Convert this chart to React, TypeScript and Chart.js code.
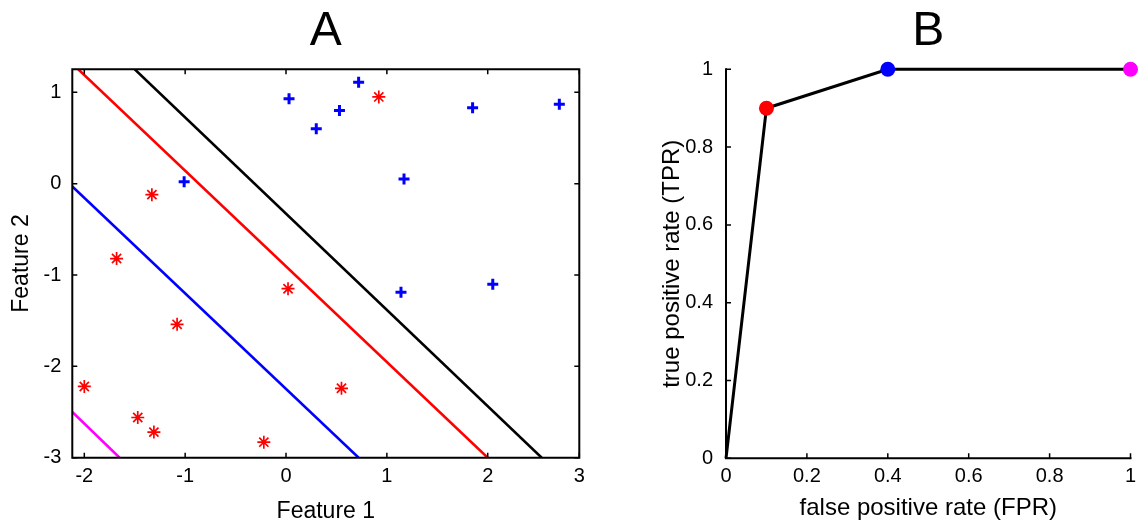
import React, { useEffect, useRef } from 'react';
import { Chart, registerables } from 'chart.js';
Chart.register(...registerables);

const FONT = '"Liberation Sans", Arial, Helvetica, sans-serif';

// ---------- Panel A data ----------
const plusX = [0.03, 0.30, 0.53, 0.72, 1.85, 2.71, -1.01, 1.17, 1.14, 2.05];
const plusY = [0.93, 0.60, 0.80, 1.11, 0.83, 0.87, 0.02, 0.05, -1.19, -1.10];
const starX = [0.92, -1.33, -1.68, 0.02, -1.08, -2.0, 0.55, -1.47, -1.31, -0.22];
const starY = [0.95, -0.12, -0.82, -1.15, -1.54, -2.22, -2.24, -2.56, -2.72, -2.83];

const blackLineX = [-1.5, 2.535];
const blackLineY = [1.252, -3];
const redLineX = [-2.06, 2.0];
const redLineY = [1.252, -3];
const blueLineX = [-2.119, 0.72];
const blueLineY = [-0.03, -3];
const magentaLineX = [-2.119, -1.65];
const magentaLineY = [-2.5, -3];

const aXMin = -2.119;
const aXMax = 2.908;
const aYMin = -3;
const aYMax = 1.252;
const aXTicks = [-2, -1, 0, 1, 2, 2.908];
const aXTickLabels = ['-2', '-1', '0', '1', '2', '3'];
const aYTicks = [-3, -2, -1, 0, 1];
const aYTickLabels = ['-3', '-2', '-1', '0', '1'];

// ---------- Panel B data ----------
const fpr = [0, 0.1, 0.4, 1];
const tpr = [0, 0.9, 1, 1];
const rocColors = ['#000000', '#ff0000', '#0000ff', '#ff00ff'];
const rocRadius = [0, 7.5, 7.5, 7.5];
const bTicks = [0, 0.2, 0.4, 0.6, 0.8, 1];
const bTickLabels = ['0', '0.2', '0.4', '0.6', '0.8', '1'];

const pts = (xs: number[], ys: number[]) => xs.map((x, i) => ({ x, y: ys[i] }));

const framePlugin = {
  id: 'frameTicks',
  afterDraw(chart: any, _args: any, opts: any) {
    const { ctx, chartArea: a, scales } = chart;
    ctx.save();
    ctx.strokeStyle = '#000';
    ctx.lineWidth = opts.lineWidth;
    ctx.lineCap = 'square';
    ctx.beginPath();
    if (opts.box) {
      ctx.rect(a.left, a.top, a.right - a.left, a.bottom - a.top);
    } else {
      ctx.moveTo(a.left, a.top);
      ctx.lineTo(a.left, a.bottom);
      ctx.lineTo(a.right, a.bottom);
    }
    ctx.stroke();
    ctx.lineCap = 'butt';
    ctx.lineWidth = opts.tickWidth;
    const L = opts.tickLength;
    ctx.beginPath();
    scales.x.ticks.forEach((t: any) => {
      const px = scales.x.getPixelForValue(t.value);
      ctx.moveTo(px, a.bottom);
      ctx.lineTo(px, a.bottom - L);
      if (opts.box) {
        ctx.moveTo(px, a.top);
        ctx.lineTo(px, a.top + L);
      }
    });
    scales.y.ticks.forEach((t: any) => {
      const py = scales.y.getPixelForValue(t.value);
      ctx.moveTo(a.left, py);
      ctx.lineTo(a.left + L, py);
      if (opts.box) {
        ctx.moveTo(a.right, py);
        ctx.lineTo(a.right - L, py);
      }
    });
    ctx.stroke();
    ctx.restore();
  },
};

const tickFont = { family: FONT, size: 20 };
const titleFont = (size: number) => ({ family: FONT, size, weight: 'normal' as const });

function configA(): any {
  return {
    type: 'scatter',
    data: {
      datasets: [
        {
          data: pts(plusX, plusY),
          pointStyle: 'cross',
          pointRadius: 5.5,
          pointBorderWidth: 3,
          pointBorderColor: '#0000ff',
          pointBackgroundColor: '#0000ff',
        },
        {
          data: pts(starX, starY),
          pointStyle: 'star',
          pointRadius: 6.5,
          pointBorderWidth: 1.7,
          pointBorderColor: '#ff0000',
          pointBackgroundColor: '#ff0000',
        },
        { data: pts(blackLineX, blackLineY), showLine: true, borderColor: '#000000', borderWidth: 2.6, pointRadius: 0 },
        { data: pts(redLineX, redLineY), showLine: true, borderColor: '#ff0000', borderWidth: 2.6, pointRadius: 0 },
        { data: pts(blueLineX, blueLineY), showLine: true, borderColor: '#0000ff', borderWidth: 2.6, pointRadius: 0 },
        { data: pts(magentaLineX, magentaLineY), showLine: true, borderColor: '#ff00ff', borderWidth: 2.6, pointRadius: 0 },
      ],
    },
    options: {
      responsive: false,
      animation: false,
      events: [],
      layout: { padding: { left: 0, right: 20.7, top: 0, bottom: 0 } },
      plugins: {
        legend: { display: false },
        tooltip: { enabled: false },
        title: {
          display: true,
          text: 'A',
          fullSize: false,
          color: '#000',
          font: titleFont(48),
          padding: { top: 3, bottom: 8.7 },
        },
        frameTicks: { box: true, lineWidth: 2, tickWidth: 1.5, tickLength: 5 },
      },
      scales: {
        x: {
          type: 'linear',
          min: aXMin,
          max: aXMax,
          afterFit: (s: any) => { s.height = 71.3; },
          afterBuildTicks: (s: any) => { s.ticks = aXTicks.map((v) => ({ value: v })); },
          grid: { display: false },
          border: { display: false },
          ticks: {
            autoSkip: false,
            maxRotation: 0,
            padding: -1,
            color: '#000',
            font: tickFont,
            callback: (_v: any, i: number) => aXTickLabels[i],
          },
          title: { display: true, text: 'Feature 1', color: '#000', font: titleFont(23), padding: { top: 0, bottom: 4 } },
        },
        y: {
          type: 'linear',
          min: aYMin,
          max: aYMax,
          afterFit: (s: any) => { s.width = 72.3; },
          afterBuildTicks: (s: any) => { s.ticks = aYTicks.map((v) => ({ value: v })); },
          grid: { display: false },
          border: { display: false },
          ticks: {
            autoSkip: false,
            padding: 3,
            color: '#000',
            font: tickFont,
            callback: (_v: any, i: number) => aYTickLabels[i],
          },
          title: { display: true, text: 'Feature 2', color: '#000', font: titleFont(23), padding: { top: 7.5, bottom: 0 } },
        },
      },
    },
    plugins: [framePlugin],
  };
}

function configB(): any {
  return {
    type: 'scatter',
    data: {
      datasets: [
        {
          data: pts(fpr, tpr),
          showLine: true,
          borderColor: '#000000',
          borderWidth: 3,
          pointRadius: rocRadius,
          pointBackgroundColor: rocColors,
          pointBorderColor: rocColors,
          pointBorderWidth: 0,
          clip: false,
        },
      ],
    },
    options: {
      responsive: false,
      animation: false,
      events: [],
      layout: { padding: { left: 0, right: 5.5, top: 0, bottom: 0 } },
      plugins: {
        legend: { display: false },
        tooltip: { enabled: false },
        title: {
          display: true,
          text: 'B',
          fullSize: false,
          color: '#000',
          font: titleFont(48),
          padding: { top: 3, bottom: 8.7 },
        },
        frameTicks: { box: false, lineWidth: 2, tickWidth: 1.5, tickLength: 5 },
      },
      scales: {
        x: {
          type: 'linear',
          min: 0,
          max: 1,
          afterFit: (s: any) => { s.height = 70.7; },
          afterBuildTicks: (s: any) => { s.ticks = bTicks.map((v) => ({ value: v })); },
          grid: { display: false },
          border: { display: false },
          ticks: {
            autoSkip: false,
            maxRotation: 0,
            padding: -2,
            color: '#000',
            font: tickFont,
            callback: (_v: any, i: number) => bTickLabels[i],
          },
          title: { display: true, text: 'false positive rate (FPR)', color: '#000', font: titleFont(24), padding: { top: 0, bottom: 6.6 } },
        },
        y: {
          type: 'linear',
          min: 0,
          max: 1,
          afterFit: (s: any) => { s.width = 126; },
          afterBuildTicks: (s: any) => { s.ticks = bTicks.map((v) => ({ value: v })); },
          grid: { display: false },
          border: { display: false },
          ticks: {
            autoSkip: false,
            padding: 5,
            color: '#000',
            font: tickFont,
            callback: (_v: any, i: number) => bTickLabels[i],
          },
          title: { display: true, text: 'true positive rate (TPR)', color: '#000', font: titleFont(24), padding: { top: 58, bottom: 0 } },
        },
      },
    },
    plugins: [framePlugin],
  };
}

export default function App() {
  const refA = useRef<HTMLCanvasElement>(null);
  const refB = useRef<HTMLCanvasElement>(null);
  useEffect(() => {
    const a = new Chart(refA.current as HTMLCanvasElement, configA());
    const b = new Chart(refB.current as HTMLCanvasElement, configB());
    return () => {
      a.destroy();
      b.destroy();
    };
  }, []);
  return (
    <div style={{ position: 'fixed', left: 0, top: 0, width: 1138, height: 529, background: '#fff', overflow: 'hidden' }}>
      <canvas ref={refA} width={600} height={529} style={{ position: 'absolute', left: 0, top: 0 }} />
      <canvas ref={refB} width={538} height={529} style={{ position: 'absolute', left: 600, top: 0 }} />
    </div>
  );
}
